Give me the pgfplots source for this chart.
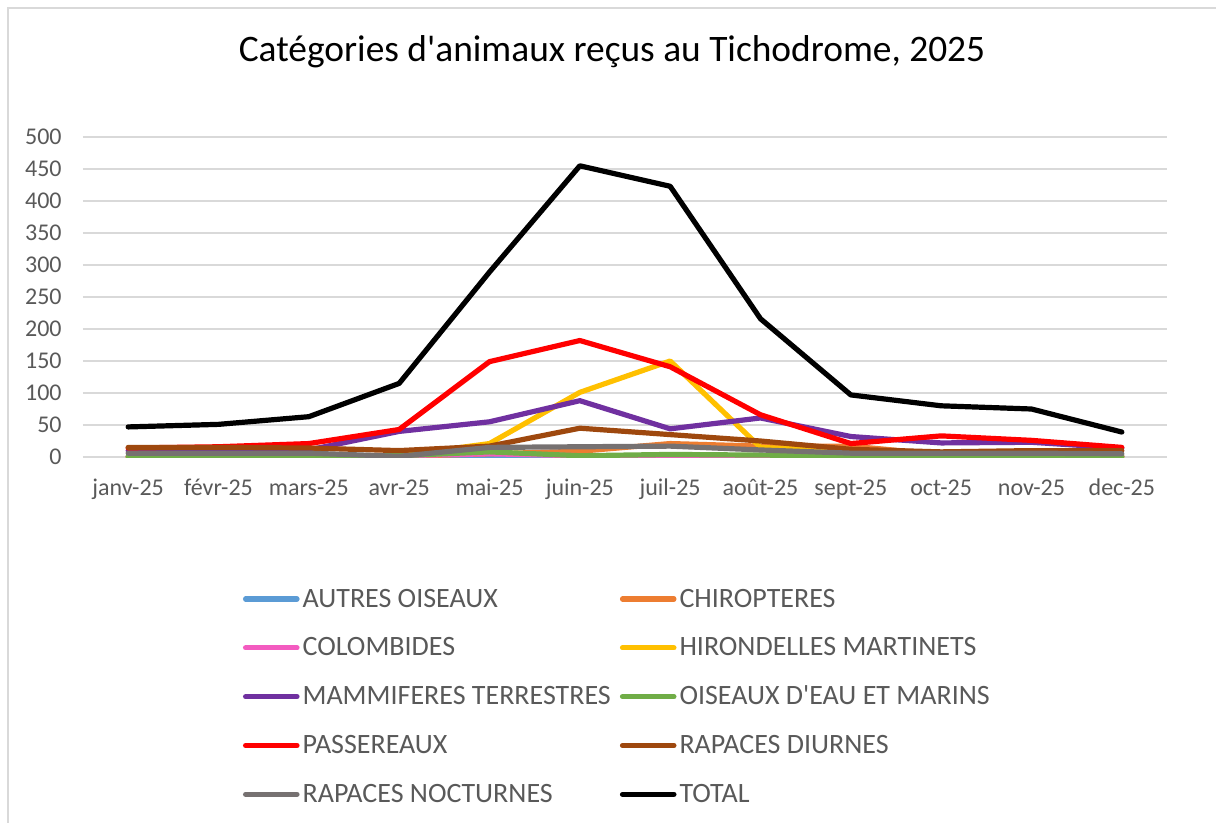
\documentclass[border=0pt]{standalone}
\usepackage{fontspec}
\setmainfont{Carlito}
\usepackage{pgfplots}
\pgfplotsset{compat=1.18}
\definecolor{txt}{HTML}{595959}
\definecolor{gridc}{HTML}{D9D9D9}
\definecolor{cautres}{HTML}{5B9BD5}
\definecolor{cchiro}{HTML}{ED7D31}
\definecolor{ccolomb}{HTML}{F35BC0}
\definecolor{chiron}{HTML}{FFC000}
\definecolor{cmammi}{HTML}{7030A0}
\definecolor{ceau}{HTML}{70AD47}
\definecolor{cpass}{HTML}{FF0000}
\definecolor{cdiurn}{HTML}{9E480E}
\definecolor{cnoct}{HTML}{767171}

\begin{document}
\begin{tikzpicture}
\path[use as bounding box] (0pt,0pt) rectangle (608pt,-411.5pt);
\draw[gridc, line width=0.8pt] (4pt,-411.5pt) -- (4pt,-4pt) -- (608pt,-4pt);
\node[font=\fontsize{18.7}{22}\selectfont] at (306pt,-26pt) {Catégories d\textquotesingle animaux reçus au Tichodrome, 2025};
\begin{axis}[
    at={(41.5pt,-228.5pt)}, anchor=south west,
    scale only axis,
    width=542pt, height=160pt,
    xmin=-0.5, xmax=11.5,
    ymin=0, ymax=500,
    ytick={0,50,...,500},
    xtick={0,...,11},
    xticklabels={janv-25,févr-25,mars-25,avr-25,mai-25,juin-25,juil-25,août-25,sept-25,oct-25,nov-25,dec-25},
    axis line style={draw=none},
    major tick length=0pt,
    ymajorgrids,
    grid style={gridc, line width=0.9pt},
    /pgf/number format/assume math mode=true,
    ticklabel style={font=\fontsize{12}{14}\selectfont, text=txt},
    yticklabel style={anchor=east, inner sep=0pt, xshift=-10.5pt},
    xticklabel style={anchor=base, inner sep=0pt, yshift=-19pt},
    every axis plot/.append style={line width=2.6pt, line cap=round, line join=round, mark=none},
    legend columns=2,
    legend cell align=left,
    legend style={draw=none, fill=none, inner sep=0pt, outer sep=0pt,
        at={(0.1476,-0.4065)}, anchor=north west,
        font=\fontsize{14}{16}\selectfont, text=txt,
        nodes={inner sep=0pt, anchor=west, text height=10pt, text depth=2pt},
        /tikz/every odd column/.append style={column sep=1.5pt},
        /tikz/every even column/.append style={column sep=4.5pt},
        row sep=12.4pt},
    legend image code/.code={\draw[#1, line width=2.6pt, line cap=round] (1.3pt,0pt) -- (27pt,0pt);},
]
\addplot[cautres] coordinates {(0,0) (1,0) (2,0) (3,1) (4,1) (5,2) (6,1) (7,1) (8,0) (9,0) (10,0) (11,0)};
\addplot[cchiro] coordinates {(0,0) (1,0) (2,0) (3,1) (4,5) (5,9) (6,21) (7,17) (8,17) (9,4) (10,2) (11,1)};
\addplot[ccolomb] coordinates {(0,1) (1,1) (2,1) (3,2) (4,5) (5,2) (6,1) (7,1) (8,1) (9,1) (10,1) (11,1)};
\addplot[chiron] coordinates {(0,0) (1,0) (2,0) (3,2) (4,21) (5,101) (6,150) (7,15) (8,8) (9,3) (10,1) (11,0)};
\addplot[cmammi] coordinates {(0,10) (1,10) (2,11) (3,40) (4,55) (5,88) (6,44) (7,61) (8,32) (9,22) (10,23) (11,14)};
\addplot[ceau] coordinates {(0,1) (1,1) (2,1) (3,2) (4,8) (5,2) (6,4) (7,3) (8,2) (9,1) (10,1) (11,1)};
\addplot[cpass] coordinates {(0,14) (1,16) (2,21) (3,43) (4,149) (5,182) (6,141) (7,66) (8,21) (9,33) (10,26) (11,15)};
\addplot[cdiurn] coordinates {(0,15) (1,15) (2,14) (3,10) (4,17) (5,45) (6,35) (7,25) (8,12) (9,8) (10,10) (11,10)};
\addplot[cnoct] coordinates {(0,6) (1,6) (2,6) (3,1) (4,15) (5,16) (6,17) (7,11) (8,6) (9,6) (10,6) (11,5)};
\addplot[black] coordinates {(0,47) (1,51) (2,63) (3,115) (4,289) (5,455) (6,423) (7,216) (8,97) (9,80) (10,75) (11,39)};
\legend{AUTRES OISEAUX, CHIROPTERES, COLOMBIDES, HIRONDELLES MARTINETS, MAMMIFERES TERRESTRES, OISEAUX D\textquotesingle EAU ET MARINS, PASSEREAUX, RAPACES DIURNES, RAPACES NOCTURNES, TOTAL}
\end{axis}
\end{tikzpicture}
\end{document}
